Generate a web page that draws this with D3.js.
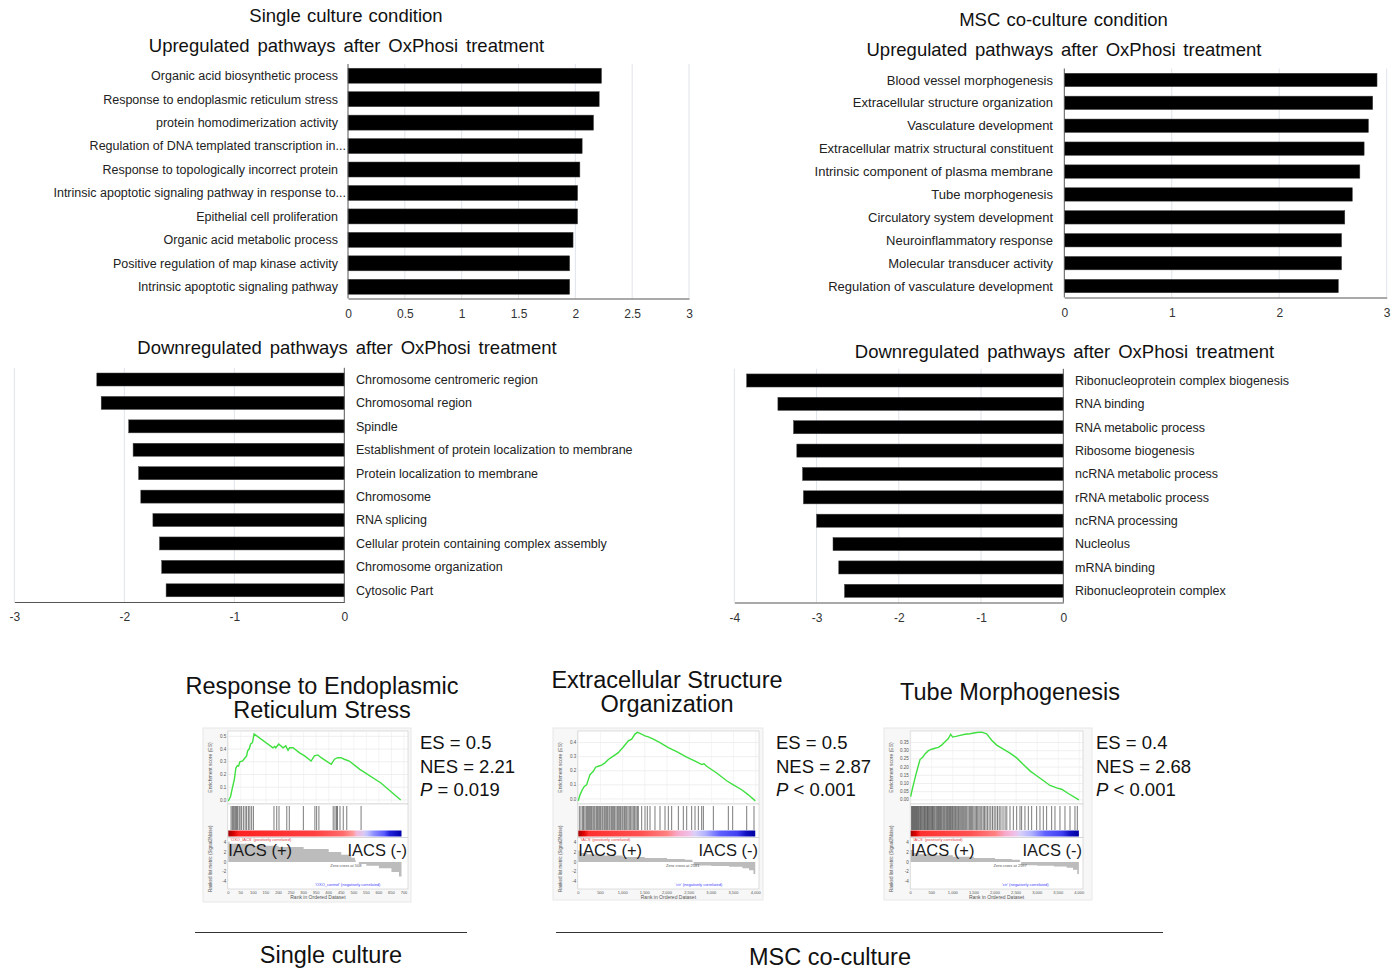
<!DOCTYPE html>
<html><head><meta charset="utf-8">
<script src="https://cdn.jsdelivr.net/npm/d3@7"></script>
<style>
body{margin:0;background:#fff;}
svg{display:block;font-family:"Liberation Sans",Arial,sans-serif;}
</style></head><body>
<svg id="chart" width="1393" height="970"></svg>
<script>
// ---------------- DATA ----------------
const singleUpCategories = ["Organic acid biosynthetic process","Response to endoplasmic reticulum stress","protein homodimerization activity","Regulation of DNA templated transcription in...","Response to topologically incorrect protein","Intrinsic apoptotic signaling pathway in response to...","Epithelial cell proliferation","Organic acid metabolic process","Positive regulation of map kinase activity","Intrinsic apoptotic signaling pathway"];
const singleUpValues = [2.23, 2.21, 2.16, 2.06, 2.04, 2.02, 2.02, 1.98, 1.95, 1.95];
const singleUpTicks = [0, 0.5, 1, 1.5, 2, 2.5, 3];

const cocultureUpCategories = ["Blood vessel morphogenesis","Extracellular structure organization","Vasculature development","Extracellular matrix structural constituent","Intrinsic component of plasma membrane","Tube morphogenesis","Circulatory system development","Neuroinflammatory response","Molecular transducer activity","Regulation of vasculature development"];
const cocultureUpValues = [2.91, 2.87, 2.83, 2.79, 2.75, 2.68, 2.61, 2.58, 2.58, 2.55];
const cocultureUpTicks = [0, 1, 2, 3];

const singleDownCategories = ["Chromosome centromeric region","Chromosomal region","Spindle","Establishment of protein localization to membrane","Protein localization to membrane","Chromosome","RNA splicing","Cellular protein containing complex assembly","Chromosome organization","Cytosolic Part"];
const singleDownValues = [-2.25, -2.21, -1.96, -1.92, -1.87, -1.85, -1.74, -1.68, -1.66, -1.62];
const singleDownTicks = [-3, -2, -1, 0];

const cocultureDownCategories = ["Ribonucleoprotein complex biogenesis","RNA binding","RNA metabolic process","Ribosome biogenesis","ncRNA metabolic process","rRNA metabolic process","ncRNA processing","Nucleolus","mRNA binding","Ribonucleoprotein complex"];
const cocultureDownValues = [-3.85, -3.47, -3.28, -3.24, -3.17, -3.16, -3.00, -2.80, -2.73, -2.66];
const cocultureDownTicks = [-4, -3, -2, -1, 0];

// GSEA enrichment plots
const gseaTitles = [["Response to Endoplasmic","Reticulum Stress"],["Extracellular Structure","Organization"],["Tube Morphogenesis"]];
const gseaES = ["0.5", "0.5", "0.4"];
const gseaNES = ["2.21", "2.87", "2.68"];
const gseaP = ["= 0.019", "< 0.001", "< 0.001"];
const gseaRankMax = [700, 4000, 4000];
const gseaGenes = [690, 3990, 3990];
const gseaZeroCross = [508, 2581, 2597];

const es1Ranks = [0,9,16,24,30,36,41,46,57,66,73,77,83,89,96,103,178,185,189,201,218,229,238,244,258,284,304,330,343,357,370,410,423,436,449,462,482,524,608,687];
const es1Values = [-0.008,0.027,0.093,0.16,0.25,0.27,0.266,0.30,0.306,0.33,0.346,0.386,0.40,0.44,0.45,0.519,0.41,0.42,0.41,0.44,0.41,0.425,0.39,0.41,0.41,0.37,0.346,0.306,0.346,0.354,0.332,0.28,0.32,0.332,0.332,0.32,0.306,0.24,0.133,0.0];
const es2Ranks = [0,38,90,135,188,226,263,301,338,391,451,526,602,677,789,902,1015,1128,1203,1278,1331,1391,1504,1579,1692,1842,2030,2218,2444,2669,2782,2835,2895,3120,3346,3496,3684,3835,3990];
const es2Values = [-0.014,0.029,0.065,0.089,0.10,0.137,0.172,0.184,0.196,0.225,0.232,0.24,0.256,0.28,0.304,0.328,0.369,0.412,0.424,0.46,0.472,0.465,0.448,0.44,0.424,0.40,0.364,0.335,0.297,0.263,0.244,0.249,0.232,0.184,0.129,0.10,0.065,0.029,-0.014];
const es3Ranks = [0,32,79,126,182,221,285,340,419,498,577,656,735,814,893,949,996,1075,1170,1289,1407,1565,1684,1802,1921,2040,2198,2356,2514,2672,2830,2988,3146,3304,3462,3581,3739,3990];
const es3Values = [0.02,0.059,0.108,0.157,0.21,0.246,0.26,0.28,0.30,0.309,0.315,0.32,0.334,0.354,0.374,0.40,0.383,0.387,0.393,0.40,0.403,0.411,0.413,0.403,0.364,0.334,0.309,0.285,0.256,0.216,0.177,0.147,0.118,0.088,0.073,0.065,0.039,0.0];

const hits1 = [11,16,20,24,29,33,37,43,47,53,60,67,73,80,86,93,100,182,193,202,233,243,299,345,352,361,418,425,431,435,445,458,472,529];
const hits2 = [23,60,98,120,150,180,203,226,250,278,301,330,353,376,406,429,451,481,504,534,556,586,609,639,662,692,715,745,768,797,820,850,880,903,933,955,985,1008,1038,1060,1090,1120,1150,1180,1210,1240,1270,1300,1330,1353,1429,1504,1556,1617,1729,1842,1955,2030,2105,2256,2368,2444,2556,2632,2707,2782,2820,3045,3383,3481,3797,3962];
const hits3 = [20,40,55,70,90,110,125,140,160,180,195,215,235,250,270,290,310,330,345,365,385,400,420,440,460,480,500,515,535,555,575,600,620,640,660,685,705,725,745,770,790,810,835,855,875,900,920,945,965,990,1010,1035,1060,1080,1105,1130,1150,1175,1200,1225,1250,1280,1305,1330,1360,1390,1415,1440,1470,1500,1530,1560,1590,1620,1650,1685,1720,1750,1785,1820,1860,1900,1940,1980,2020,2060,2100,2140,2190,2240,2280,2356,2435,2514,2593,2632,2711,2791,2870,2988,3067,3146,3225,3344,3423,3541,3660,3779,3897,3953];

const metric1Ranks = [0,5,100,200,300,400,450,490,505,508,520,550,600,650,680,690];
const metric1Values = [4.2,3.8,3.4,3.1,2.7,2.1,1.5,0.9,0.3,0,-0.4,-0.8,-1.3,-2.1,-3.0,-4.4];
const metric2Ranks = [0,50,200,500,1000,1500,2000,2400,2570,2581,2600,2700,3000,3400,3700,3850,3950,3990];
const metric2Values = [2.4,1.9,1.6,1.35,1.05,0.85,0.65,0.45,0.2,0,-0.7,-0.75,-0.85,-1.0,-1.3,-1.7,-2.5,-3.4];
const metric3Ranks = [0,50,200,500,1000,1500,2000,2400,2590,2597,2620,3000,3400,3700,3850,3950,3990];
const metric3Values = [2.5,1.9,1.6,1.4,1.1,0.85,0.65,0.45,0.2,0,-0.7,-0.8,-0.95,-1.2,-1.6,-2.5,-3.8];

const esTicks = [[0,0.1,0.2,0.3,0.4,0.5],[0,0.1,0.2,0.3,0.4],[0,0.05,0.1,0.15,0.2,0.25,0.3,0.35]];
const rankTicks = [[0,50,100,150,200,250,300,350,400,450,500,550,600,650,700],[0,500,1000,1500,2000,2500,3000,3500,4000],[0,500,1000,1500,2000,2500,3000,3500,4000]];
const metricTicks = [-4,-2,0,2,4];

// ---------------- DRAWING ----------------
const svg = d3.select('#chart');
svg.append('rect').attr('width',1393).attr('height',970).attr('fill','#fff');

function addText(x, y, str, size, anchor, opts) {
  opts = opts || {};
  const t = svg.append('text').attr('x', x).attr('y', y).text(str)
    .attr('font-size', size).attr('text-anchor', anchor || 'middle')
    .attr('fill', opts.fill || '#111');
  if (opts.ws) t.attr('word-spacing', opts.ws);
  return t;
}

function barChart(cfg) {
  const x = d3.scaleLinear().domain(cfg.domain).range(cfg.xRange);
  const y = d3.scaleBand().domain(cfg.categories).range(cfg.yRange)
    .paddingInner(cfg.pad).paddingOuter(cfg.pad / 2);
  const g = svg.append('g');
  g.selectAll('line.grid').data(cfg.ticks.filter(t => t !== 0)).join('line')
    .attr('x1', d => x(d)).attr('x2', d => x(d))
    .attr('y1', cfg.yRange[0]).attr('y2', cfg.yRange[1])
    .attr('stroke', '#dfe3ea').attr('stroke-width', 1);
  g.selectAll('rect.bar').data(cfg.values).join('rect')
    .attr('x', d => x(Math.min(0, d)))
    .attr('width', d => Math.abs(x(d) - x(0)))
    .attr('y', (d, i) => y(cfg.categories[i]))
    .attr('height', y.bandwidth())
    .attr('fill', '#000').attr('stroke', '#444').attr('stroke-width', 0.5);
  g.append('line').attr('x1', x(0)).attr('x2', x(0))
    .attr('y1', cfg.yRange[0]).attr('y2', cfg.yRange[1])
    .attr('stroke', '#555').attr('stroke-width', 1);
  const ax = g.append('g').attr('transform', `translate(0,${cfg.yRange[1]})`)
    .call(d3.axisBottom(x).tickValues(cfg.ticks).tickSize(0).tickSizeOuter(0).tickPadding(10.5).tickFormat(d => String(d)));
  ax.select('.domain').attr('stroke', '#555');
  ax.selectAll('text').attr('font-size', 12).attr('fill', '#333')
    .attr('font-family', '"Liberation Sans", Arial, sans-serif');
  g.selectAll('text.lab').data(cfg.categories).join('text')
    .attr('x', d => cfg.labelX + (cfg.labelAnchor === 'end' && d.endsWith('...') ? 8 : 0))
    .attr('y', d => y(d) + y.bandwidth() / 2)
    .attr('dy', '0.35em').attr('text-anchor', cfg.labelAnchor)
    .attr('font-size', cfg.labelSize).attr('fill', '#222').text(d => d);
}

// Titles of bar charts
addText(346, 22, 'Single culture condition', 18.5, 'middle', {ws: 1});
addText(346.5, 52, 'Upregulated pathways after OxPhosi treatment', 18.5, 'middle', {ws: 2.7});
addText(1063.5, 26, 'MSC co-culture condition', 18.5, 'middle', {ws: 1});
addText(1064, 56, 'Upregulated pathways after OxPhosi treatment', 18.5, 'middle', {ws: 2.6});
addText(347, 354, 'Downregulated pathways after OxPhosi treatment', 18.5, 'middle', {ws: 2.8});
addText(1064.5, 358, 'Downregulated pathways after OxPhosi treatment', 18.5, 'middle', {ws: 2.8});

barChart({categories: singleUpCategories, values: singleUpValues, ticks: singleUpTicks, labelSize: 12.5,
  domain: [0, 3], xRange: [348, 689], yRange: [64, 298.5], pad: 0.36, labelX: 338, labelAnchor: 'end'});
barChart({categories: cocultureUpCategories, values: cocultureUpValues, ticks: cocultureUpTicks, labelSize: 13,
  domain: [0, 3], xRange: [1064.3, 1386.7], yRange: [68.5, 297.5], pad: 0.415, labelX: 1053, labelAnchor: 'end'});
barChart({categories: singleDownCategories, values: singleDownValues, ticks: singleDownTicks, labelSize: 12.5,
  domain: [-3, 0], xRange: [14.3, 344.3], yRange: [367.8, 602], pad: 0.445, labelX: 356, labelAnchor: 'start'});
barChart({categories: cocultureDownCategories, values: cocultureDownValues, ticks: cocultureDownTicks, labelSize: 12.5,
  domain: [-4, 0], xRange: [734.3, 1063.3], yRange: [368.8, 602.5], pad: 0.44, labelX: 1075, labelAnchor: 'start'});

// ---------------- GSEA panels ----------------
const gseaLayout = [
  {bx: 203, bw: 208, bh: 174, xr: [228.3, 404], fr: 408, esDom: [-0.032, 0.542], statX: 420, titleX: 322, titleY: [694, 718], fmt: d3.format('.1f'), rfmt: d3.format('d'),
   stops: [[0,'#9a0000'],[0.03,'#d80000'],[0.06,'#ff2020'],[0.5,'#ff4040'],[0.66,'#ff6a6a'],[0.72,'#ff9a9a'],[0.74,'#f2b6d8'],[0.78,'#dcc8f0'],[0.8,'#c4c4ff'],[0.84,'#9090ff'],[0.9,'#5a5aff'],[0.93,'#2424dd'],[1,'#0000aa']],
   posLabel: "'OXO_IACS' (positively correlated)", negLabel: "'OXO_control' (negatively correlated)"},
  {bx: 553, bw: 210, bh: 172, xr: [578.3, 755.7], fr: 759, esDom: [-0.036, 0.482], statX: 776, titleX: 667, titleY: [688, 712], fmt: d3.format('.1f'), rfmt: d3.format(','),
   stops: [[0,'#a00000'],[0.03,'#e00000'],[0.06,'#ff3030'],[0.35,'#ff5050'],[0.5,'#ff8080'],[0.56,'#f7a8c8'],[0.63,'#f0c0e8'],[0.66,'#d8d0f8'],[0.72,'#b0b0ff'],[0.8,'#6060ff'],[0.9,'#4040f0'],[0.95,'#1010c0'],[1,'#0000a0']],
   posLabel: "'IACS' (positively correlated)", negLabel: "'ctr' (negatively correlated)"},
  {bx: 884, bw: 208, bh: 172, xr: [910.7, 1079.3], fr: 1083, esDom: [-0.025, 0.42], statX: 1096, titleX: 1010, titleY: [700], fmt: d3.format('.2f'), rfmt: d3.format(','),
   stops: [[0,'#a00000'],[0.03,'#e00000'],[0.06,'#ff3030'],[0.35,'#ff5050'],[0.5,'#ff8080'],[0.56,'#f7a8c8'],[0.62,'#f0c0e8'],[0.65,'#d8d0f8'],[0.72,'#b0b0ff'],[0.8,'#6060ff'],[0.9,'#4040f0'],[0.95,'#1010c0'],[1,'#0000a0']],
   posLabel: "'IACS' (positively correlated)", negLabel: "'ctr' (negatively correlated)"}
];
const esRanksAll = [es1Ranks, es2Ranks, es3Ranks];
const esValuesAll = [es1Values, es2Values, es3Values];
const hitsAll = [hits1, hits2, hits3];
const metricRanksAll = [metric1Ranks, metric2Ranks, metric3Ranks];
const metricValuesAll = [metric1Values, metric2Values, metric3Values];

const defs = svg.append('defs');

gseaLayout.forEach((L, k) => {
  const g = svg.append('g');
  const top = 728;
  const esY0 = 731, esY1 = 804, hitY1 = 830.5, cbY1 = 836.5, mY1 = 889;
  const x = d3.scaleLinear().domain([0, gseaRankMax[k]]).range(L.xr);
  const yES = d3.scaleLinear().domain(L.esDom).range([esY1, esY0]);
  const yM = d3.scaleLinear().domain([-5, 5]).range([886, 838]);
  const pl = L.xr[0] - 0.5;

  g.append('rect').attr('x', L.bx).attr('y', top).attr('width', L.bw).attr('height', L.bh)
    .attr('fill', '#f7f7f7').attr('stroke', '#e8e8e8');
  [[esY0, esY1], [esY1, cbY1 + 1], [cbY1 + 1, mY1]].forEach(p => {
    g.append('rect').attr('x', pl).attr('y', p[0]).attr('width', L.fr - pl).attr('height', p[1] - p[0])
      .attr('fill', '#fff').attr('stroke', '#c8c8c8').attr('stroke-width', 0.6);
  });
  g.selectAll('line.hg').data(esTicks[k]).join('line')
    .attr('x1', pl).attr('x2', L.fr).attr('y1', d => yES(d)).attr('y2', d => yES(d))
    .attr('stroke', '#e4e4e4').attr('stroke-width', 0.6);
  g.selectAll('line.vg').data(rankTicks[k]).join('line')
    .attr('x1', d => x(d)).attr('x2', d => x(d)).attr('y1', esY0).attr('y2', esY1)
    .attr('stroke', '#ececec').attr('stroke-width', 0.6);
  g.selectAll('text.est').data(esTicks[k]).join('text')
    .attr('x', pl - 1.5).attr('y', d => yES(d)).attr('dy', '0.35em').attr('text-anchor', 'end')
    .attr('font-size', 4.5).attr('fill', '#555').text(d => L.fmt(d));
  const pts = esRanksAll[k].map((r, i) => [r, esValuesAll[k][i]]);
  g.append('path').datum(pts)
    .attr('d', d3.line().x(d => x(d[0])).y(d => yES(d[1])))
    .attr('fill', 'none').attr('stroke', '#3fe03f').attr('stroke-width', 1.4);
  g.selectAll('line.hit').data(hitsAll[k]).join('line')
    .attr('x1', d => x(d)).attr('x2', d => x(d)).attr('y1', esY1 + 2).attr('y2', hitY1 - 0.5)
    .attr('stroke', '#222').attr('stroke-opacity', 0.75).attr('stroke-width', 0.8);
  const gid = 'cb' + k;
  const lg = defs.append('linearGradient').attr('id', gid).attr('x1', '0%').attr('x2', '100%');
  L.stops.forEach(s => lg.append('stop').attr('offset', s[0]).attr('stop-color', s[1]));
  g.append('rect').attr('x', x(0)).attr('y', hitY1).attr('width', x(gseaGenes[k]) - x(0)).attr('height', cbY1 - hitY1)
    .attr('fill', `url(#${gid})`);
  const mpts = metricRanksAll[k].map((r, i) => [r, metricValuesAll[k][i]]);
  g.append('path').datum(mpts)
    .attr('d', d3.area().x(d => x(d[0])).y0(yM(0)).y1(d => yM(d[1])).curve(d3.curveStepAfter))
    .attr('fill', '#bcbcbc');
  g.selectAll('text.mt').data(metricTicks).join('text')
    .attr('x', pl - 1.5).attr('y', d => yM(d)).attr('dy', '0.35em').attr('text-anchor', 'end')
    .attr('font-size', 4.5).attr('fill', '#555').text(d => d);
  g.selectAll('text.rt').data(rankTicks[k]).join('text')
    .attr('x', d => x(d)).attr('y', mY1 + 5).attr('text-anchor', 'middle')
    .attr('font-size', 4).attr('fill', '#555').text(d => L.rfmt(d));
  g.append('text').attr('x', (pl + L.fr) / 2).attr('y', mY1 + 10).attr('text-anchor', 'middle')
    .attr('font-size', 5).attr('fill', '#555').text('Rank in Ordered Dataset');
  g.append('text').attr('transform', `translate(${L.bx + 9},${(esY0 + esY1) / 2}) rotate(-90)`)
    .attr('text-anchor', 'middle').attr('font-size', 5).attr('fill', '#555').text('Enrichment score (ES)');
  g.append('text').attr('transform', `translate(${L.bx + 9},${(cbY1 + mY1) / 2 - 4}) rotate(-90)`)
    .attr('text-anchor', 'middle').attr('font-size', 4.5).attr('fill', '#555').text('Ranked list metric (Signal2Noise)');
  g.append('text').attr('x', x(0) + 2).attr('y', cbY1 + 4.5).attr('font-size', 4).attr('fill', '#e04040').text(L.posLabel);
  g.append('text').attr('x', x(gseaZeroCross[k]) - 10).attr('y', yM(0) + 5).attr('font-size', 4).attr('fill', '#555')
    .attr('text-anchor', 'middle').text('Zero cross at ' + gseaZeroCross[k]);
  g.append('text').attr('x', x(gseaRankMax[k] * 0.68)).attr('y', mY1 - 3).attr('font-size', 4).attr('fill', '#4040ff')
    .attr('text-anchor', 'middle').text(L.negLabel);
  g.append('text').attr('x', x(0)).attr('y', 855.5).attr('font-size', 16.5).attr('fill', '#1a1a1a').text('IACS (+)');
  g.append('text').attr('x', L.fr - 1).attr('y', 855.5).attr('font-size', 16.5).attr('fill', '#1a1a1a')
    .attr('text-anchor', 'end').text('IACS (-)');

  gseaTitles[k].forEach((t, i) => addText(L.titleX, L.titleY[i], t, 23.5, 'middle'));
  addText(L.statX, 749, 'ES = ' + gseaES[k], 18.5, 'start');
  addText(L.statX, 773, 'NES = ' + gseaNES[k], 18.5, 'start');
  const pt = addText(L.statX, 796, '', 18.5, 'start');
  pt.append('tspan').attr('font-style', 'italic').text('P');
  pt.append('tspan').text(' ' + gseaP[k]);
});

svg.append('line').attr('x1', 195).attr('x2', 467).attr('y1', 932.5).attr('y2', 932.5).attr('stroke', '#333');
svg.append('line').attr('x1', 556).attr('x2', 1163).attr('y1', 932.5).attr('y2', 932.5).attr('stroke', '#333');
addText(331, 963, 'Single culture', 23.5, 'middle');
addText(830, 965, 'MSC co-culture', 23.5, 'middle');
</script>
</body></html>
